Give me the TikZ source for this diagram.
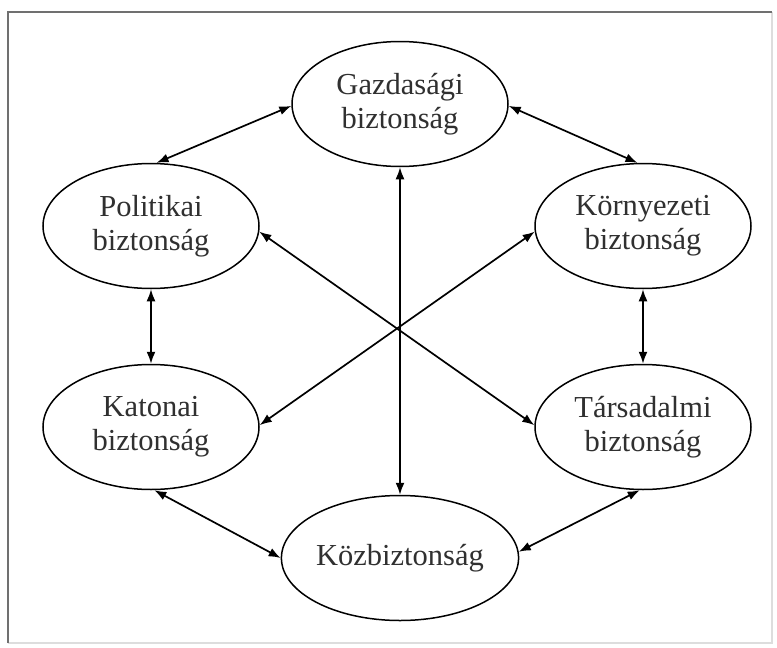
\documentclass[tikz,border=0pt]{standalone}
\usepackage{fontspec}
\setmainfont{Liberation Serif}
\usetikzlibrary{shapes.geometric,arrows.meta}
\definecolor{txt}{HTML}{303030}
\definecolor{framedark}{HTML}{707070}
\definecolor{framelight}{HTML}{DDDDDD}
\begin{document}
\begin{tikzpicture}[x=1pt,y=-1pt,
  sec/.style={ellipse,draw=black,line width=1.5pt,minimum width=216pt,minimum height=125pt,
    inner sep=0pt,align=center,text=txt,font=\fontsize{30.5}{34}\selectfont},
  link/.style={line width=1.7pt,{Latex[length=12pt,width=9pt]}-{Latex[length=12pt,width=9pt]}}]
\useasboundingbox (0,0) rectangle (777,648);
\fill[white] (0,0) rectangle (777,648);
% frame
\draw[framelight,line width=1.5pt] (772,12) -- (772,643) -- (8,643);
\draw[framedark,line width=2.4pt] (8,643) -- (8,12) -- (772,12);
% nodes
\node[sec] (gaz) at (400,104) {Gazdasági\\biztonság};
\node[sec] (pol) at (151,226) {Politikai\\biztonság};
\node[sec] (kor) at (643,226) {Környezeti\\biztonság};
\node[sec] (kat) at (151,427) {Katonai\\biztonság};
\node[sec] (tar) at (643,427) {Társadalmi\\biztonság};
\node[sec] (koz) at (400,558) {Közbiztonság};
% connectors
\draw[link] (pol.85) -- (gaz.181);
\draw[link] (gaz.-1) -- (kor.95);
\draw[link] (pol.south) -- (kat.north);
\draw[link] (kor.south) -- (tar.north);
\draw[link] (gaz.south) -- (koz.north);
\draw[link] (pol.-3) -- (tar.179);
\draw[link] (kor.183) -- (kat.1);
\draw[link] (kat.-87) -- (koz.180);
\draw[link] (tar.-93) -- (koz.3);
\end{tikzpicture}
\end{document}
